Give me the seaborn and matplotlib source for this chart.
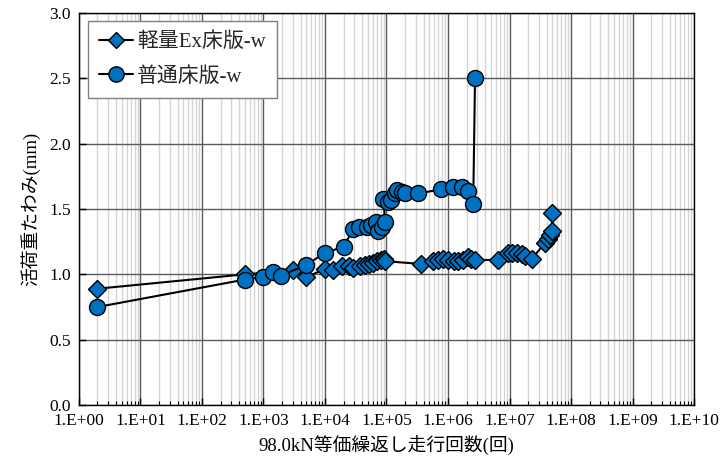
import matplotlib
matplotlib.use("Agg")
import matplotlib.pyplot as plt
import matplotlib.ticker as mticker
from matplotlib.lines import Line2D
import numpy as np
import pandas as pd
import seaborn as sns

# Series labels
label_ex = "軽量Ex床版-w"
label_std = "普通床版-w"

# 軽量Ex床版: cycles and deflection (mm)
ex_cycles = [2, 500, 3000, 5000, 1.0e4, 1.37e4, 1.86e4, 2.5e4, 2.9e4, 3.7e4, 4.5e4,
             5.2e4, 6.0e4, 7.0e4, 8.0e4, 9.0e4, 9.6e4, 3.65e5, 5.8e5, 6.9e5, 8.3e5,
             1.0e6, 1.23e6, 1.48e6, 1.78e6, 2.1e6, 2.4e6, 2.75e6, 6.5e6, 9.5e6,
             1.1e7, 1.3e7, 1.58e7, 1.8e7, 2.3e7, 3.8e7, 4.3e7, 4.6e7, 4.9e7, 5.0e7]
ex_defl = [0.89, 1.00, 1.03, 0.98, 1.04, 1.03, 1.06, 1.06, 1.05, 1.06, 1.07,
           1.08, 1.09, 1.10, 1.11, 1.12, 1.10, 1.08, 1.10, 1.11, 1.12,
           1.11, 1.10, 1.10, 1.11, 1.13, 1.12, 1.11, 1.11, 1.16,
           1.16, 1.16, 1.155, 1.14, 1.12, 1.24, 1.27, 1.30, 1.33, 1.47]

# 普通床版: cycles and deflection (mm)
std_cycles = [2, 500, 1000, 1450, 1900, 4900, 1.0e4, 2.0e4, 2.9e4, 3.6e4, 4.8e4,
              5.7e4, 6.7e4, 7.4e4, 8.4e4, 9.5e4, 8.9e4, 1.07e5, 1.2e5, 1.38e5,
              1.48e5, 1.78e5, 2.0e5, 3.3e5, 7.8e5, 1.2e6, 1.67e6, 2.14e6, 2.57e6,
              2.75e6]
std_defl = [0.75, 0.96, 0.98, 1.02, 0.99, 1.07, 1.165, 1.21, 1.35, 1.36, 1.36,
            1.38, 1.40, 1.33, 1.36, 1.40, 1.58, 1.556, 1.57, 1.62,
            1.645, 1.63, 1.62, 1.62, 1.65, 1.665, 1.67, 1.64, 1.54,
            2.50]

x_tick_labels = ["1.E+00", "1.E+01", "1.E+02", "1.E+03", "1.E+04", "1.E+05",
                 "1.E+06", "1.E+07", "1.E+08", "1.E+09", "1.E+10"]
y_ticks = [0.0, 0.5, 1.0, 1.5, 2.0, 2.5, 3.0]

x_label = "98.0kN等価繰返し走行回数(回)"
y_label = "活荷重たわみ(mm)"

sns.set_theme(style="white")
plt.rcParams["font.family"] = ["Liberation Serif", "Noto Sans CJK JP", "DejaVu Sans"]

BLUE = "#0070C0"

fig = plt.figure(figsize=(7.2, 4.66), dpi=100)
ax = fig.add_axes([0.1097, 0.1309, 0.8542, 0.8412])

df_ex = pd.DataFrame({"cycles": ex_cycles, "defl": ex_defl})
df_std = pd.DataFrame({"cycles": std_cycles, "defl": std_defl})

sns.lineplot(data=df_ex, x="cycles", y="defl", ax=ax, sort=False, estimator=None,
             color="black", linewidth=1.5, marker="D", markersize=9.5,
             markerfacecolor=BLUE, markeredgecolor="black", markeredgewidth=1.0,
             zorder=3)
sns.lineplot(data=df_std, x="cycles", y="defl", ax=ax, sort=False, estimator=None,
             color="black", linewidth=1.5, marker="o", markersize=11.5,
             markerfacecolor=BLUE, markeredgecolor="black", markeredgewidth=1.0,
             zorder=4)

ax.set_xscale("log")
ax.set_xlim(1, 1e10)
ax.set_ylim(0, 3.0)

ax.xaxis.set_minor_locator(mticker.LogLocator(base=10, subs=np.arange(2, 10), numticks=20))
ax.set_xticks([10.0 ** i for i in range(11)])
ax.set_xticklabels(x_tick_labels)
ax.xaxis.set_minor_formatter(mticker.NullFormatter())
ax.set_yticks(y_ticks)
ax.set_yticklabels([f"{v:.1f}" for v in y_ticks])

ax.grid(True, which="major", axis="both", color="#5a5a5a", linewidth=1.0, zorder=0)
ax.grid(True, which="minor", axis="x", color="#d4d4d4", linewidth=1.0, zorder=0)
ax.set_axisbelow(True)

for s in ax.spines.values():
    s.set_color("black")
    s.set_linewidth(1.0)

ax.tick_params(axis="both", which="major", direction="in", length=5, width=1.0,
               labelsize=12.5, colors="black", pad=6)
ax.tick_params(axis="x", which="minor", direction="in", length=3, width=0.8,
               colors="black", bottom=True)
ax.tick_params(axis="x", which="both", bottom=True, top=False)
ax.tick_params(axis="y", which="both", left=True, right=False)

ax.set_xlabel(x_label, fontsize=13.5, color="black", labelpad=5)
ax.set_ylabel(y_label, fontsize=13.5, color="black", labelpad=6)

handles = [
    Line2D([], [], color="black", linewidth=1.5, marker="D", markersize=8.5,
           markerfacecolor=BLUE, markeredgecolor="black"),
    Line2D([], [], color="black", linewidth=1.5, marker="o", markersize=11,
           markerfacecolor=BLUE, markeredgecolor="black"),
]
leg = ax.legend(handles, [label_ex, label_std], loc="upper left",
                bbox_to_anchor=((88 - 79) / 615, (405 - 21) / 392),
                fontsize=15, handlelength=1.6, handletextpad=0.2,
                labelspacing=0.7, borderpad=0.55, borderaxespad=0,
                frameon=True, fancybox=False)
leg.get_frame().set_edgecolor("#7f7f7f")
leg.get_frame().set_linewidth(1.0)
leg.get_frame().set_alpha(1.0)

fig.savefig("out.png", dpi=100)
